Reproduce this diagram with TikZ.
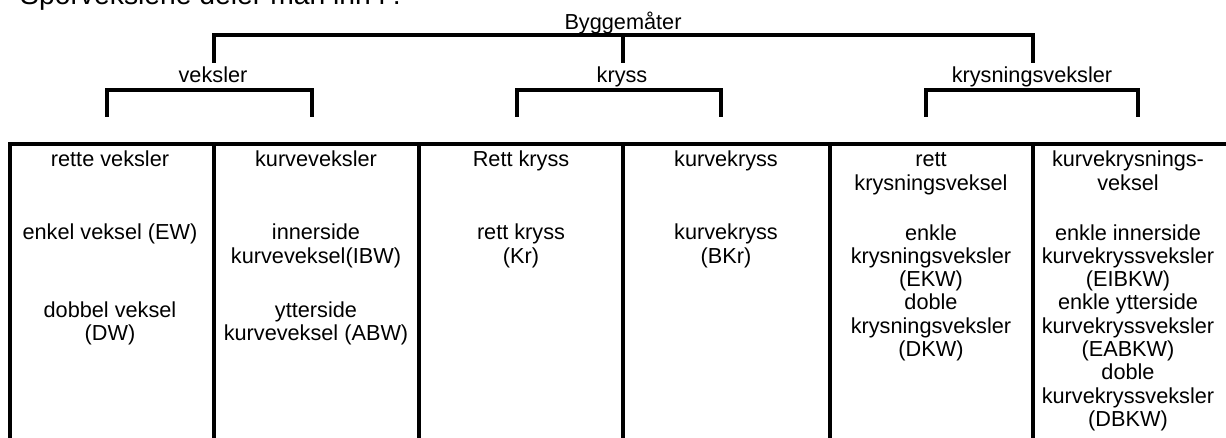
\documentclass[tikz,border=0pt]{standalone}
\usepackage{fontspec}
\setmainfont{Liberation Sans}
\begin{document}
\begin{tikzpicture}[x=1pt,y=-1pt,
  heavy/.style={line width=4pt,line join=miter,line cap=butt},
  lbl/.style={inner sep=0pt,anchor=base,align=center,text=black,font=\fontsize{21.7}{23.3}\selectfont},
  ttl/.style={inner sep=0pt,anchor=base west,font=\fontsize{28.3}{32}\selectfont}]
\useasboundingbox (0,0) rectangle (1226,438);
\clip (0,0) rectangle (1226,438);
% title (cut at the top)
\node[ttl] (title) at (20,5) {Sporvekslene deler man inn i :};
% level labels
\node[lbl] (byg) at (623,30) {Byggemåter};
\node[lbl] (vek) at (213,83) {veksler};
\node[lbl] (kry) at (622,83) {kryss};
\node[lbl] (krv) at (1032,83) {krysningsveksler};
% top bracket
\coordinate (tA) at (214,63);
\coordinate (tB) at (623,63);
\coordinate (tC) at (1033,63);
\coordinate (tL) at (214,35);
\coordinate (tM) at (623,35);
\coordinate (tR) at (1033,35);
\draw[heavy] (tA) -- (tL) -- (tR) -- (tC);
\draw[heavy] (tM) -- (tB);
% sub brackets
\coordinate (v1) at (107,117); \coordinate (v2) at (312,117);
\coordinate (k1) at (517,117); \coordinate (k2) at (721,117);
\coordinate (s1) at (926,117); \coordinate (s2) at (1138,117);
\draw[heavy] (v1) |- (vek.south |- 0,90) -| (v2);
\draw[heavy] (k1) |- (kry.south |- 0,90) -| (k2);
\draw[heavy] (s1) |- (krv.south |- 0,90) -| (s2);
% table
\draw[heavy] (9.5,445) |- (1240,144);
\foreach \xx in {214,419,623,830,1033} \draw[heavy] (\xx,144) -- (\xx,445);
% column 1 (multi-line nodes are placed at the baseline of their last line)
\node[lbl] (c1h) at (110,167) {rette veksler};
\node[lbl] (c1a) at (110,240) {enkel veksel (EW)};
\node[lbl] (c1b) at (110,340.3) {dobbel veksel\\(DW)};
% column 2
\node[lbl] (c2h) at (316,167) {kurveveksler};
\node[lbl] (c2a) at (316,263.3) {innerside\\kurveveksel(IBW)};
\node[lbl] (c2b) at (316,340.3) {ytterside\\kurveveksel (ABW)};
% column 3
\node[lbl] (c3h) at (521,167) {Rett kryss};
\node[lbl] (c3a) at (521,263.3) {rett kryss\\(Kr)};
% column 4
\node[lbl] (c4h) at (726,167) {kurvekryss};
\node[lbl] (c4a) at (726,263.3) {kurvekryss\\(BKr)};
% column 5
\node[lbl] (c5h) at (931,190.3) {rett\\krysningsveksel};
\node[lbl] (c5a) at (931,356.5) {enkle\\krysningsveksler\\(EKW)\\doble\\krysningsveksler\\(DKW)};
% column 6
\node[lbl] (c6h) at (1128,190.3) {kurvekrysnings-\\veksel};
\node[lbl] (c6a) at (1128,426.4) {enkle innerside\\kurvekryssveksler\\(EIBKW)\\enkle ytterside\\kurvekryssveksler\\(EABKW)\\doble\\kurvekryssveksler\\(DBKW)};
\end{tikzpicture}
\end{document}
